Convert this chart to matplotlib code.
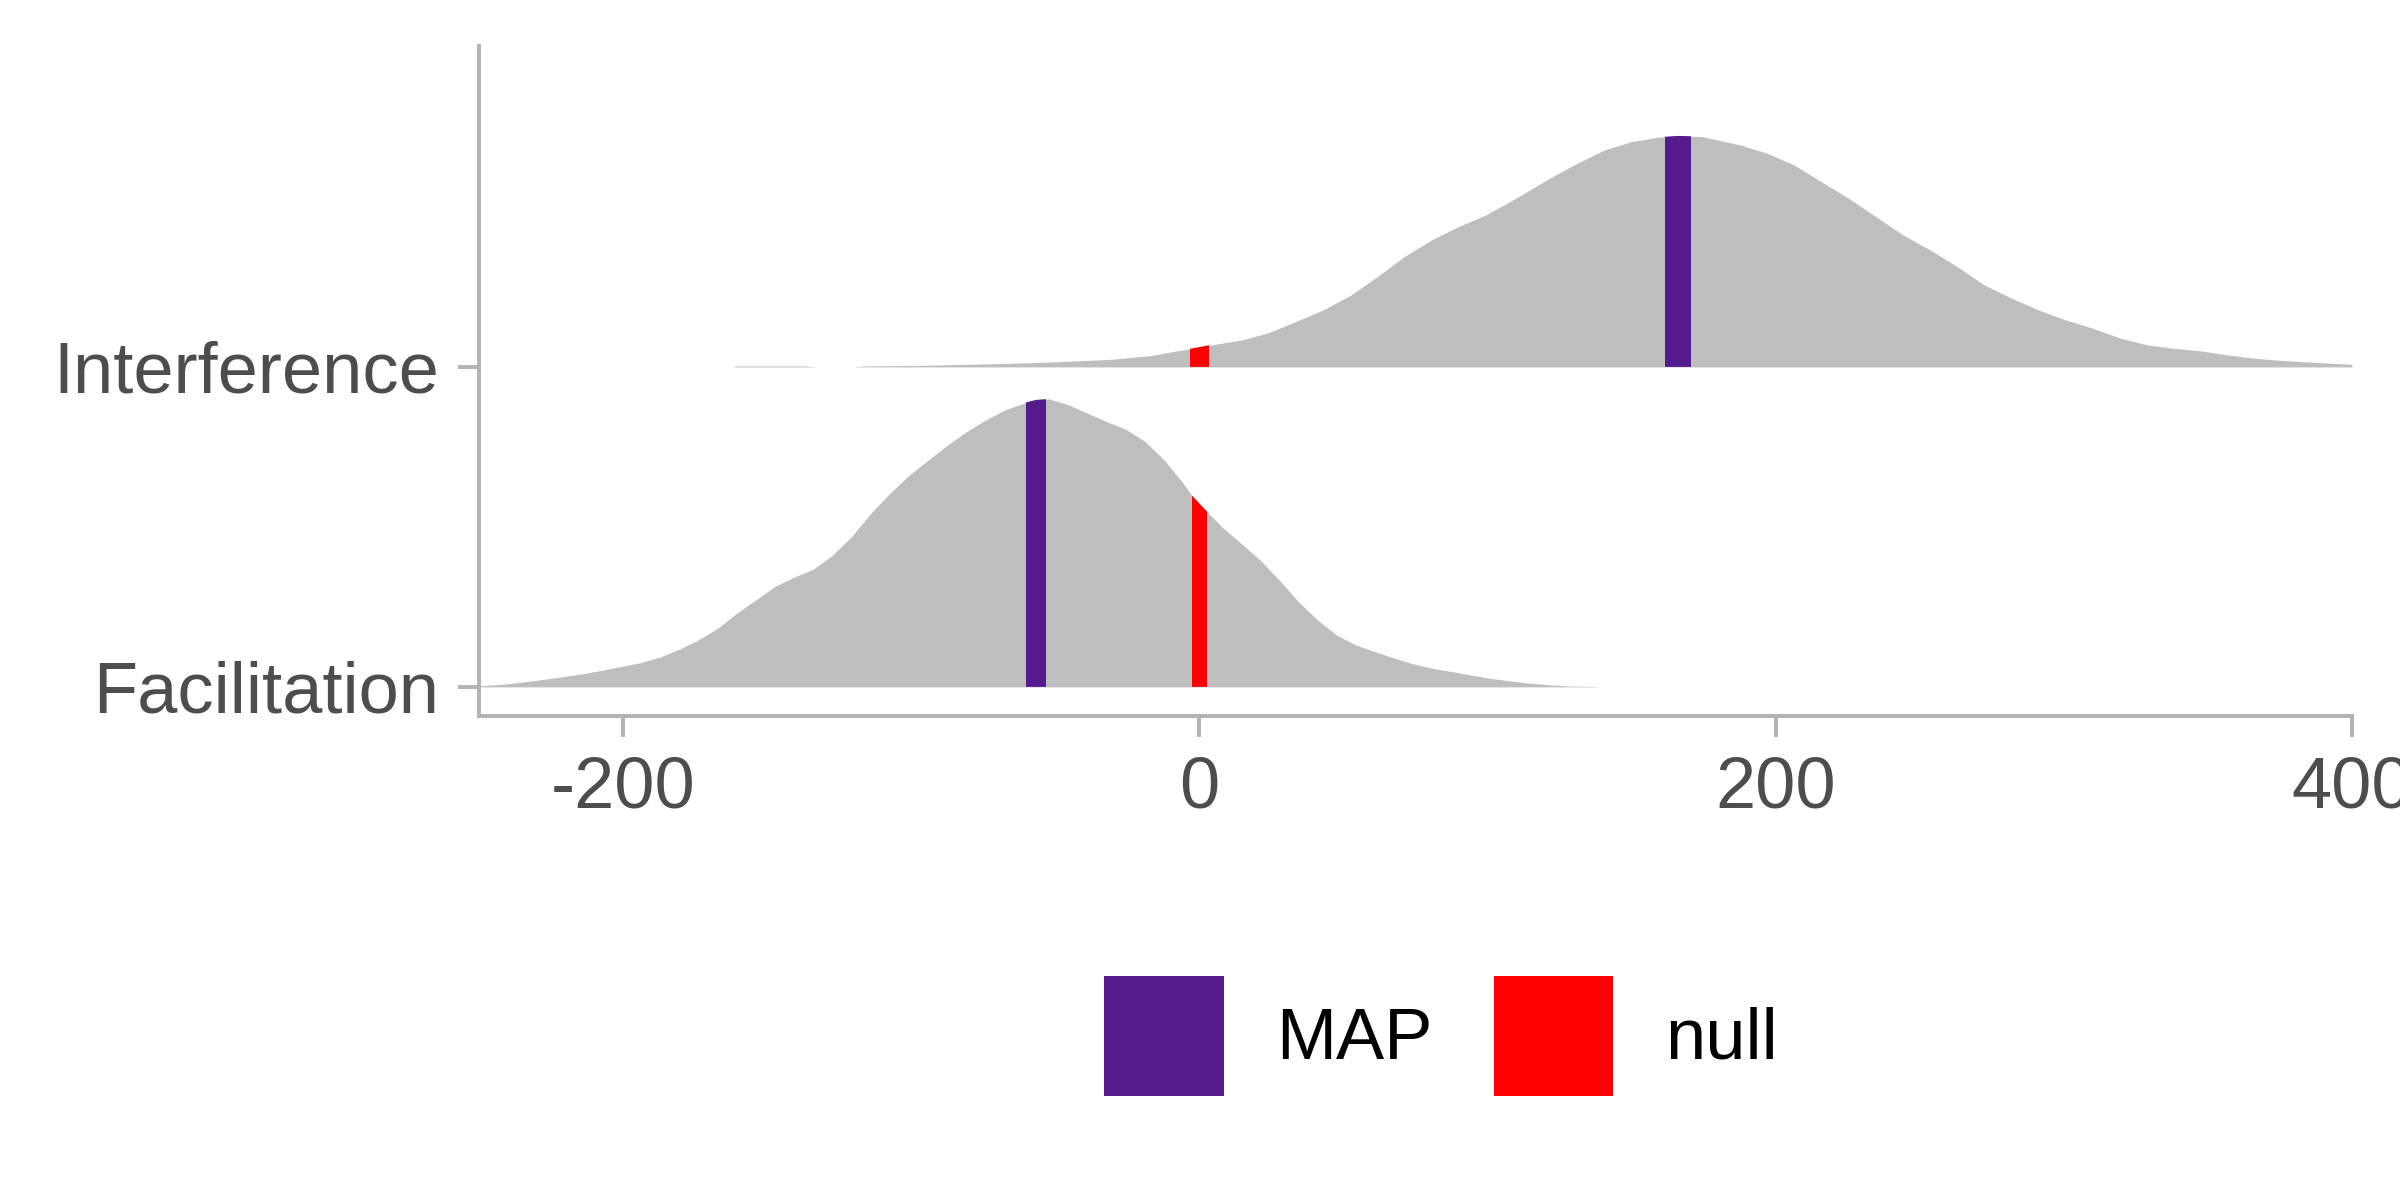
import numpy as np
from matplotlib import pyplot as plt
from matplotlib.patches import Patch

plt.switch_backend('agg')
plt.rcParams['font.family'] = ['Liberation Sans', 'DejaVu Sans']

# ridge categories (bottom to top) and tick labels
categories = ['Facilitation', 'Interference']
x_ticks = [-200, 0, 200, 400]
x_tick_labels = ['-200', '0', '200', '400']

# posterior densities (height in ridge units)
facilitation_x = [-250.4, -240.4, -227.1, -213.8, -200.5, -193.9, -187.2, -180.5, -173.9, -167.2,
                  -160.6, -153.9, -147.3, -140.6, -134.0, -127.3, -120.7, -114.0, -107.4, -100.7,
                  -94.1, -87.4, -80.8, -74.2, -67.5, -60.2, -56.7, -52.1, -45.5, -38.8,
                  -32.2, -25.5, -18.9, -12.2, -5.6, -2.8, 2.4, 7.7, 14.4, 21.0,
                  27.7, 34.3, 41.0, 47.6, 54.3, 60.9, 67.6, 74.2, 80.9, 87.5,
                  94.2, 100.8, 107.5, 114.1, 120.8, 127.4, 138.1]
facilitation_y = [0.003, 0.009, 0.024, 0.041, 0.064, 0.076, 0.093, 0.118, 0.147, 0.183,
                  0.230, 0.272, 0.314, 0.343, 0.368, 0.412, 0.470, 0.543, 0.605, 0.662,
                  0.709, 0.756, 0.798, 0.834, 0.866, 0.889, 0.897, 0.900, 0.882, 0.855,
                  0.829, 0.805, 0.767, 0.709, 0.636, 0.600, 0.550, 0.501, 0.449, 0.397,
                  0.334, 0.267, 0.209, 0.162, 0.131, 0.110, 0.090, 0.072, 0.058, 0.048,
                  0.037, 0.027, 0.019, 0.012, 0.007, 0.003, 0.001]

interference_x = [-161.3, -136.5, -133.0, -120.0, -116.7, -96.9, -81.4, -66.8, -52.4, -42.1,
                  -30.2, -23.6, -17.0, -10.6, -4.2, 0.0, 3.0, 14.6, 24.0, 33.5,
                  42.9, 52.3, 61.7, 71.1, 80.6, 90.0, 99.4, 108.8, 121.6, 131.0,
                  140.5, 149.9, 159.3, 166.1, 174.4, 187.6, 197.0, 206.4, 215.8, 225.3,
                  234.7, 244.1, 253.5, 262.9, 272.4, 281.8, 291.2, 300.6, 310.0, 319.5,
                  328.9, 338.3, 347.7, 357.1, 366.5, 375.9, 385.4, 400.0]
interference_y = [0.003, 0.003, 0.0, 0.0, 0.003, 0.005, 0.008, 0.011, 0.015, 0.019,
                  0.024, 0.030, 0.035, 0.046, 0.055, 0.062, 0.067, 0.084, 0.107, 0.142,
                  0.178, 0.223, 0.282, 0.345, 0.397, 0.439, 0.475, 0.522, 0.590, 0.636,
                  0.678, 0.704, 0.718, 0.722, 0.720, 0.694, 0.668, 0.631, 0.579, 0.527,
                  0.470, 0.413, 0.366, 0.314, 0.256, 0.215, 0.178, 0.147, 0.121, 0.090,
                  0.069, 0.058, 0.050, 0.037, 0.027, 0.020, 0.015, 0.008]

map_values = [-56.7, 166.1]
null_value = 0

GRAY = '#BEBEBE'
PURPLE = '#551A8B'
RED = '#FF0000'
AXIS_COLOR = '#B3B3B3'
TEXT_COLOR = '#4D4D4D'
FONT_SIZE = 52
# width of the highlighted bands per ridge (map, null)
band_widths = [(6.8, 5.1), (9.0, 6.4)]

fig = plt.figure(figsize=(24, 12), dpi=100)
ax = fig.add_axes([479 / 2400, 484 / 1200, (2352 - 479) / 2400, (1154 - 484) / 1200])

ridges = [(facilitation_x, facilitation_y), (interference_x, interference_y)]
for i, (xs, ys) in enumerate(ridges):
    base = i + 1
    xs = np.array(xs)
    ys = np.array(ys) + base
    coll = ax.fill_between(xs, base, ys, color=GRAY, linewidth=0, zorder=2)
    clip = coll.get_paths()[0]
    map_w, null_w = band_widths[i]
    for centre, width, colour in [(map_values[i], map_w, PURPLE), (null_value, null_w, RED)]:
        bars = ax.bar(centre, 1.0, width=width, bottom=base, color=colour, linewidth=0, zorder=3)
        for rect in bars:
            rect.set_clip_path(clip, ax.transData)

ax.set_xlim(-250, 400)
ax.set_ylim(0.909, 3.003)
ax.set_xticks(x_ticks)
ax.set_xticklabels(x_tick_labels)
ax.set_yticks(range(1, len(categories) + 1))
ax.set_yticklabels(categories)

for side in ['top', 'right']:
    ax.spines[side].set_visible(False)
for side in ['left', 'bottom']:
    ax.spines[side].set_color(AXIS_COLOR)
    ax.spines[side].set_linewidth(2.9)
ax.tick_params(axis='both', length=15.4, width=2.9, color=AXIS_COLOR,
               labelcolor=TEXT_COLOR, labelsize=FONT_SIZE, pad=13)
ax.set_facecolor('white')

handles = [Patch(facecolor=PURPLE, linewidth=0, label='MAP'),
           Patch(facecolor=RED, linewidth=0, label='null')]
fig.legend(handles=handles, loc='center', bbox_to_anchor=(1441 / 2400, 1 - 1036 / 1200),
           ncol=2, frameon=False, fontsize=FONT_SIZE, handlelength=1.66, handleheight=2.2,
           handletextpad=0.72, columnspacing=0.85, borderpad=0, labelcolor='black')

fig.savefig('out.png', dpi=100, facecolor='white')
